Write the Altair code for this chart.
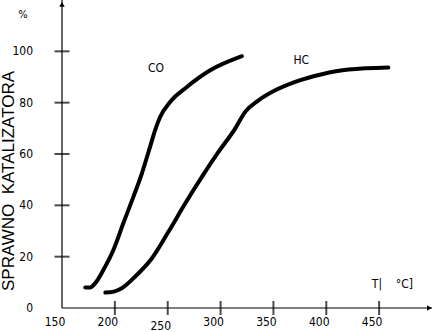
import altair as alt
import pandas as pd

# ---- data ----
co_t = [172, 176.5, 181.3, 189.1, 198.6, 208.0, 217.5, 225.5, 233.3, 238.1, 242.8, 252.3, 268.1, 290.2, 320.2]
co_v = [8.0, 8.0, 9.6, 14.8, 22.6, 33.0, 43.3, 52.4, 62.8, 69.3, 74.4, 80.3, 86.1, 92.6, 98.1]
hc_t = [191, 199, 206.5, 219.1, 234.9, 250.7, 266.5, 282.3, 298.0, 313.8, 323.3, 335.9, 351.7, 370.6, 395.9, 421.1, 458.7]
hc_v = [6.0, 6.4, 7.7, 12.2, 19.3, 29.7, 40.7, 51.1, 60.8, 69.9, 76.4, 80.9, 84.8, 88.1, 91.1, 92.9, 93.7]

x_ticks = [200, 250, 300, 350, 400, 450]
x_labels_hi = [150, 200, 300, 350, 400, 450]
x_labels_lo = [250]
y_ticks = [20, 40, 60, 80, 100]
y_labels = [0, 20, 40, 60, 80, 100]

x_min, x_max = 150, 500
y_min, y_max = 0, 120

FONT = "Liberation Sans Narrow, DejaVu Sans Condensed, Liberation Sans, Arial"

xs = alt.Scale(domain=[x_min, x_max], nice=False, zero=False)
ys = alt.Scale(domain=[y_min, y_max], nice=False, zero=False)


def X(f):
    return alt.X(f, type="quantitative", scale=xs, axis=None)


def Y(f):
    return alt.Y(f, type="quantitative", scale=ys, axis=None)


curves = pd.DataFrame(
    {"T": co_t + hc_t, "v": co_v + hc_v, "s": ["CO"] * len(co_t) + ["HC"] * len(hc_t),
     "o": list(range(len(co_t))) + list(range(len(hc_t)))}
)

lines = alt.Chart(curves).mark_line(
    color="black", strokeWidth=4, interpolate="monotone", strokeCap="round", strokeJoin="round"
).encode(x=X("T"), y=Y("v"), detail="s:N", order="o:Q")

# axis lines
yaxis = alt.Chart(pd.DataFrame({"x": [x_min], "y": [y_min], "y2": [y_max]})).mark_rule(
    color="black", strokeWidth=1.2
).encode(x=X("x"), y=Y("y"), y2="y2:Q")
xaxis = alt.Chart(pd.DataFrame({"x": [x_min], "x2": [x_max], "y": [y_min]})).mark_rule(
    color="black", strokeWidth=1.2
).encode(x=X("x"), x2="x2:Q", y=Y("y"))

# arrowheads
arrow_up = alt.Chart(pd.DataFrame({"x": [x_min], "y": [118.3]})).mark_point(
    shape="triangle-up", filled=True, color="black", size=30, opacity=1
).encode(x=X("x"), y=Y("y"))
arrow_right = alt.Chart(pd.DataFrame({"x": [497.5], "y": [y_min]})).mark_point(
    shape="triangle-right", filled=True, color="black", size=30, opacity=1
).encode(x=X("x"), y=Y("y"))

# tick marks crossing the axes
xt = alt.Chart(pd.DataFrame({"x": x_ticks, "y": [y_min] * len(x_ticks)})).mark_tick(
    color="black", orient="vertical", size=14, thickness=2
).encode(x=X("x"), y=Y("y"))
yt = alt.Chart(pd.DataFrame({"x": [x_min] * len(y_ticks), "y": y_ticks})).mark_tick(
    color="black", orient="horizontal", size=15, thickness=2
).encode(x=X("x"), y=Y("y"))

# tick labels
xl = alt.Chart(pd.DataFrame({"x": x_labels_hi, "y": [y_min] * len(x_labels_hi),
                             "t": [str(v) for v in x_labels_hi]})).mark_text(
    font=FONT, fontSize=12, align="center", baseline="middle", dx=-7, dy=14, color="black"
).encode(x=X("x"), y=Y("y"), text="t:N")
xl2 = alt.Chart(pd.DataFrame({"x": x_labels_lo, "y": [y_min] * len(x_labels_lo),
                              "t": [str(v) for v in x_labels_lo]})).mark_text(
    font=FONT, fontSize=12, align="center", baseline="middle", dx=-7, dy=18, color="black"
).encode(x=X("x"), y=Y("y"), text="t:N")
yl = alt.Chart(pd.DataFrame({"x": [x_min] * len(y_labels), "y": y_labels,
                             "t": [str(v) for v in y_labels]})).mark_text(
    font=FONT, fontSize=12, align="right", baseline="middle", dx=-29, color="black"
).encode(x=X("x"), y=Y("y"), text="t:N")

# annotations
ann = pd.DataFrame({
    "x": [239, 376.3, 462.5],
    "y": [93.7, 96.6, 9.3],
    "t": ["CO", "HC", "T|\u00a0\u00a0\u00a0\u00a0°C]"],
})
annot = alt.Chart(ann).mark_text(
    font=FONT, fontSize=12, align="center", baseline="middle", color="black"
).encode(x=X("x"), y=Y("y"), text="t:N")
pct = alt.Chart(pd.DataFrame({"x": [x_min], "y": [114], "t": ["%"]})).mark_text(
    font=FONT, fontSize=11, align="center", baseline="middle", dx=-39, color="black"
).encode(x=X("x"), y=Y("y"), text="t:N")

ytitle = alt.Chart(pd.DataFrame({"x": [x_min], "y": [49.5], "t": ["SPRAWNO\u00a0\u00a0KATALIZATORA"]})).mark_text(
    font="Liberation Sans, Arial", fontSize=17, align="center", baseline="middle",
    angle=270, dy=-53, color="black"
).encode(x=X("x"), y=Y("y"), text="t:N")

chart = alt.layer(
    yaxis, xaxis, arrow_up, arrow_right, xt, yt, lines, xl, xl2, yl, annot, pct, ytitle
).properties(
    width=370, height=308,
    padding={"left": 62, "top": 0, "right": 1, "bottom": 24},
    autosize=alt.AutoSizeParams(type="none"),
    background="white",
).configure_view(stroke=None)

chart.save("out.html", embed_options={"renderer": "svg", "actions": False})
